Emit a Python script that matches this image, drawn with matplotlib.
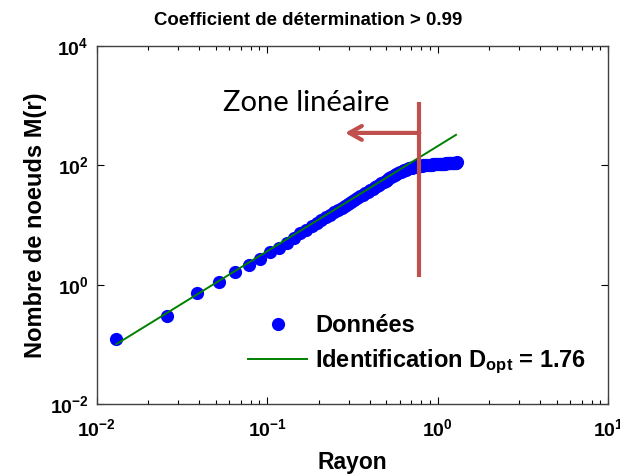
import matplotlib
matplotlib.use("Agg")
import matplotlib.pyplot as plt
import numpy as np
from matplotlib.ticker import FixedLocator, LogLocator, FuncFormatter, NullFormatter

plt.rcParams['font.family'] = ['Liberation Sans', 'DejaVu Sans']
plt.rcParams['font.weight'] = 'bold'
plt.rcParams['mathtext.fontset'] = 'custom'
plt.rcParams['mathtext.rm'] = 'Liberation Sans:bold'
plt.rcParams['mathtext.bf'] = 'Liberation Sans:bold'
plt.rcParams['mathtext.it'] = 'Liberation Sans:bold'

# data
rayon = [
    0.013, 0.026, 0.039, 0.052, 0.065, 0.078, 0.091, 0.104, 0.117, 0.130,
    0.143, 0.156, 0.169, 0.182, 0.195, 0.208, 0.221, 0.234, 0.247, 0.260,
    0.273, 0.286, 0.299, 0.312, 0.325, 0.338, 0.351, 0.364, 0.377, 0.390,
    0.403, 0.416, 0.429, 0.442, 0.455, 0.468, 0.481, 0.494, 0.507, 0.520,
    0.533, 0.546, 0.559, 0.572, 0.585, 0.598, 0.611, 0.624, 0.637, 0.650,
    0.663, 0.676, 0.689, 0.702, 0.715, 0.728, 0.741, 0.754, 0.767, 0.780,
    0.793, 0.806, 0.819, 0.832, 0.845, 0.858, 0.871, 0.884, 0.897, 0.910,
    0.923, 0.936, 0.949, 0.962, 0.975, 0.988, 1.001, 1.014, 1.027, 1.040,
    1.053, 1.066, 1.079, 1.092, 1.105, 1.118, 1.131, 1.144, 1.157, 1.170,
    1.183, 1.196, 1.209, 1.222, 1.235, 1.248, 1.261, 1.274, 1.287, 1.300,
]
noeuds = [
    0.126, 0.30, 0.72, 1.12, 1.62, 2.19, 2.75, 3.5, 4.1, 5.1,
    6.2, 7.3, 8.4, 9.6, 10.8, 12.1, 13.5, 14.9, 16.4, 17.9,
    19.6, 21.2, 22.9, 24.7, 26.6, 28.4, 30.4, 32.4, 34.5, 36.6,
    38.7, 40.9, 43.2, 45.5, 47.9, 50.3, 52.8, 55.3, 57.9, 60.6,
    63.3, 66.0, 68.7, 71.4, 74.0, 76.5, 79.0, 81.3, 83.5, 85.5,
    87.3, 89.0, 90.6, 92.0, 93.3, 94.5, 95.6, 96.6, 97.5, 98.3,
    99.0, 99.6, 100.2, 100.7, 101.2, 101.7, 102.1, 102.5, 102.9, 103.3,
    103.6, 103.9, 104.2, 104.5, 104.8, 105.1, 105.4, 105.7, 106.0, 106.3,
    106.6, 106.9, 107.2, 107.5, 107.8, 108.1, 108.4, 108.7, 109.0, 109.3,
    109.6, 109.9, 110.2, 110.5, 110.8, 111.1, 111.4, 111.7, 112.0, 112.3,
]

# fitted power law M = k * r^D
d_opt = 1.76
k_fit = 211
fit_r = np.array([0.0130, 1.28])
fit_m = k_fit * fit_r ** d_opt

# linear zone limit
r_limit = 0.78

fig = plt.figure(figsize=(6.2, 4.75), dpi=100)
ax = fig.add_axes([0.156, 0.149, 0.825, 0.754])

ax.plot(rayon, noeuds, 'o', color='#0000ff', markersize=9.5, markeredgewidth=0,
        label='Données', zorder=2)
ax.plot(fit_r, fit_m, '-', color='#008000', linewidth=1.4,
        label=r'Identification $\mathbf{D_{opt}}$ = 1.76', zorder=3)

ax.set_xscale('log')
ax.set_yscale('log')
ax.set_xlim(1e-2, 1e1)
ax.set_ylim(1e-2, 1e4)

ax.yaxis.set_major_locator(FixedLocator([1e-2, 1e0, 1e2, 1e4]))
ax.yaxis.set_minor_locator(FixedLocator([]))
ax.xaxis.set_major_locator(LogLocator(base=10))
ax.xaxis.set_minor_locator(LogLocator(base=10, subs=np.arange(2, 10)))
ax.xaxis.set_minor_formatter(NullFormatter())

fmt = FuncFormatter(lambda v, p: r'$\mathbf{10^{%d}}$' % int(round(np.log10(v))))
ax.xaxis.set_major_formatter(fmt)
ax.yaxis.set_major_formatter(fmt)

ax.tick_params(which='both', direction='in', top=True, right=True,
               labelsize=14, colors='#000000')
ax.tick_params(which='major', length=5, width=0.8)
ax.tick_params(which='minor', length=3, width=0.8)
ax.tick_params(axis='x', which='major', pad=10)
ax.tick_params(axis='y', which='major', pad=6)
for s in ax.spines.values():
    s.set_color('#404040')
    s.set_linewidth(1.0)

fig.text(0.497, 0.957, 'Coefficient de détermination > 0.99', fontsize=13.4,
         fontweight='bold', ha='center', va='center')
ax.set_xlabel('Rayon', fontsize=16.5, fontweight='bold', labelpad=8)
ax.set_ylabel('Nombre de noeuds M(r)', fontsize=17, fontweight='bold', labelpad=2)

# red marker of the linear zone
red = '#c0504d'
ax.plot([r_limit, r_limit], [1.36, 1160], color=red, linewidth=3, zorder=4,
        solid_capstyle='butt')
ax.annotate('', xy=(0.286, 351), xytext=(r_limit, 351),
            arrowprops=dict(arrowstyle='->,head_length=0.9,head_width=0.5',
                            color=red, lw=3, shrinkA=0, shrinkB=0), zorder=4)
ax.text(0.409, 0.841, 'Zone linéaire', transform=ax.transAxes,
        ha='center', va='center', fontsize=21, fontweight='normal',
        family=['Lato', 'DejaVu Sans'], color='#000000')

leg = ax.legend(loc='center', bbox_to_anchor=(0.627, 0.165), frameon=False,
                fontsize=17, handlelength=2.5, handletextpad=0.35,
                labelspacing=0.45, borderpad=0, markerscale=1.0)

fig.savefig('out.png', dpi=100)
